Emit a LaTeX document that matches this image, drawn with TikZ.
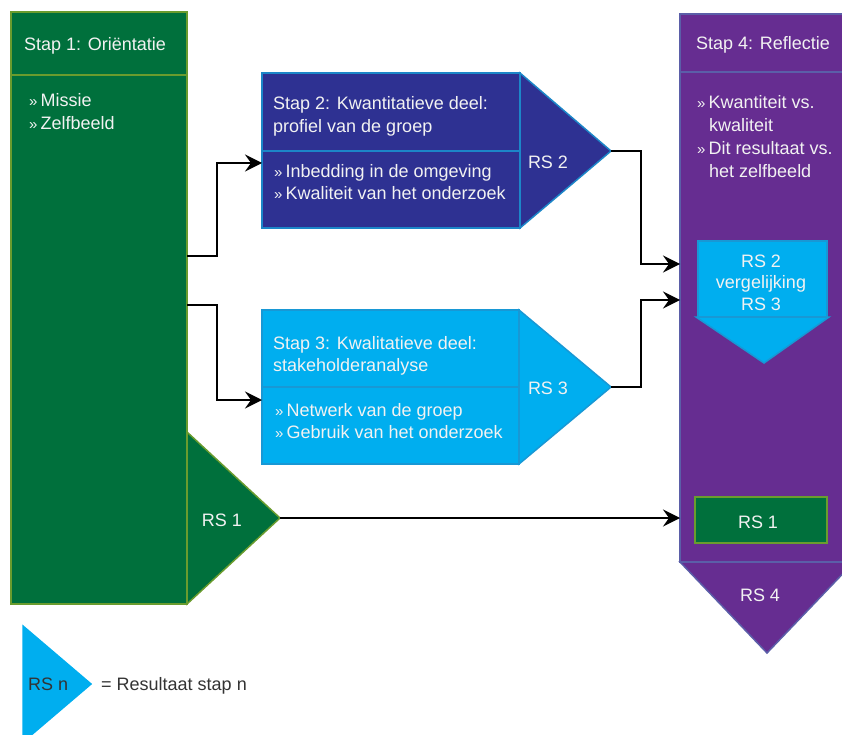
\documentclass[tikz,border=0pt]{standalone}
\usepackage{fontspec}
\setmainfont{Liberation Sans}
\usetikzlibrary{arrows.meta}
\definecolor{dgreen}{HTML}{00703C}
\definecolor{lgreen}{HTML}{6A9C2E}
\definecolor{indigo}{HTML}{2E3192}
\definecolor{indigoedge}{HTML}{1C86C8}
\definecolor{cyanf}{HTML}{00AEEF}
\definecolor{cyanedge}{HTML}{1898D5}
\definecolor{purp}{HTML}{662D91}
\definecolor{purpedge}{HTML}{5B5EA8}
\definecolor{txt}{HTML}{F2F2F2}
\definecolor{legtxt}{HTML}{333333}
\newcommand{\gq}{{\fontsize{15}{15}\selectfont »}\kern3pt}
\begin{document}
\begin{tikzpicture}[x=1pt,y=-1pt,
  lbl/.style={anchor=base west, inner sep=0pt, text=txt, font=\fontsize{18}{23}\selectfont},
  clbl/.style={anchor=base, inner sep=0pt, text=txt, font=\fontsize{18}{23}\selectfont},
  leg/.style={anchor=base west, inner sep=0pt, text=legtxt, font=\fontsize{18}{23}\selectfont},
  greenbox/.style={fill=dgreen, draw=lgreen, line width=1.5pt},
  indigobox/.style={fill=indigo, draw=indigoedge, line width=1.5pt},
  cyanbox/.style={fill=cyanf, draw=cyanedge, line width=1.5pt},
  purpbox/.style={fill=purp, draw=purpedge, line width=1.5pt},
  conn/.style={line width=1.8pt, -{Stealth[length=17pt,width=17pt,inset=6pt]}},
  line join=miter]
\useasboundingbox (0,0) rectangle (842,735);
\clip (0,0) rectangle (842,735);

% ---------- Stap 1 ----------
\draw[greenbox] (187,432) -- (280,518) -- (187,604) -- cycle;
\draw[greenbox] (11,12) rectangle (187,604);
\draw[lgreen, line width=1.5pt] (11,75) -- (187,75);
\coordinate (rs1tip) at (280,518);
\coordinate (s1outA) at (187,256);
\coordinate (s1outB) at (187,305);
\node[lbl] (s1t) at (24,51) {Stap 1: Oriëntatie};
\node[lbl] (s1a) at (29,107) {\gq Missie};
\node[lbl] (s1b) at (29,130) {\gq Zelfbeeld};
\node[clbl] (rs1) at (222,526) {RS 1};

% ---------- Stap 2 ----------
\draw[indigobox] (520,73) -- (611,151) -- (520,228) -- cycle;
\draw[indigobox] (262,73) rectangle (520,228);
\draw[indigoedge, line width=1.5pt] (262,151) -- (520,151);
\coordinate (s2in) at (262,163);
\coordinate (rs2tip) at (611,151);
\node[lbl] (s2t1) at (273,110) {Stap 2: Kwantitatieve deel:};
\node[lbl] (s2t2) at (273,133) {profiel van de groep};
\node[lbl] (s2a) at (274,178) {\gq Inbedding in de omgeving};
\node[lbl] (s2b) at (274,200) {\gq Kwaliteit van het onderzoek};
\node[clbl] (rs2) at (548,169) {RS 2};

% ---------- Stap 3 ----------
\draw[cyanbox] (519,310) -- (611,387) -- (519,464) -- cycle;
\draw[cyanbox] (262,310) rectangle (519,464);
\draw[cyanedge, line width=1.5pt] (262,387) -- (519,387);
\coordinate (s3in) at (262,400);
\coordinate (rs3tip) at (611,387);
\node[lbl] (s3t1) at (273,349) {Stap 3: Kwalitatieve deel:};
\node[lbl] (s3t2) at (273,371) {stakeholderanalyse};
\node[lbl] (s3a) at (275,416) {\gq Netwerk van de groep};
\node[lbl] (s3b) at (275,438) {\gq Gebruik van het onderzoek};
\node[clbl] (rs3) at (548,394) {RS 3};

% ---------- Stap 4 ----------
\draw[purpbox] (680,562) -- (767,653) -- (854,562) -- cycle;
\draw[purpbox] (680,14) rectangle (854,562);
\draw[purpedge, line width=1.5pt] (680,72) -- (854,72);
\coordinate (s4inA) at (680,264);
\coordinate (s4inB) at (680,300);
\node[lbl] (s4t) at (696,50) {Stap 4: Reflectie};
\node[lbl] (s4a) at (697,109) {\gq Kwantiteit vs.};
\node[lbl] (s4b) at (709,132) {kwaliteit};
\node[lbl] (s4c) at (697,155) {\gq Dit resultaat vs.};
\node[lbl] (s4d) at (709,178) {het zelfbeeld};
% vergelijking
\draw[cyanbox] (696,317) -- (764,363) -- (829,317) -- cycle;
\draw[cyanbox] (698,241) rectangle (827,317);
\node[clbl] (v1) at (761,267) {RS 2};
\node[clbl] (v2) at (761,288) {vergelijking};
\node[clbl] (v3) at (761,310) {RS 3};
% RS 1 in stap 4
\draw[greenbox] (695,497) rectangle (827,543);
\coordinate (s4rs1) at (680,518);
\node[clbl] (rs1b) at (758,528) {RS 1};
\node[clbl] (rs4) at (760,601) {RS 4};

% ---------- connectors ----------
\draw[conn] (s1outA) -| (217,163) -- (s2in);
\draw[conn] (s1outB) -| (217,400) -- (s3in);
\draw[conn] (rs2tip) -| (641,264) -- (s4inA);
\draw[conn] (rs3tip) -| (641,300) -- (s4inB);
\draw[conn] (rs1tip) -- (s4rs1);

% ---------- legend ----------
\draw[cyanbox, draw=cyanf] (23,626) -- (91,684) -- (23,742) -- cycle;
\node[leg] (legrs) at (28,690) {RS n};
\node[leg] (legtext) at (101,690) {= Resultaat stap n};
\end{tikzpicture}
\end{document}
